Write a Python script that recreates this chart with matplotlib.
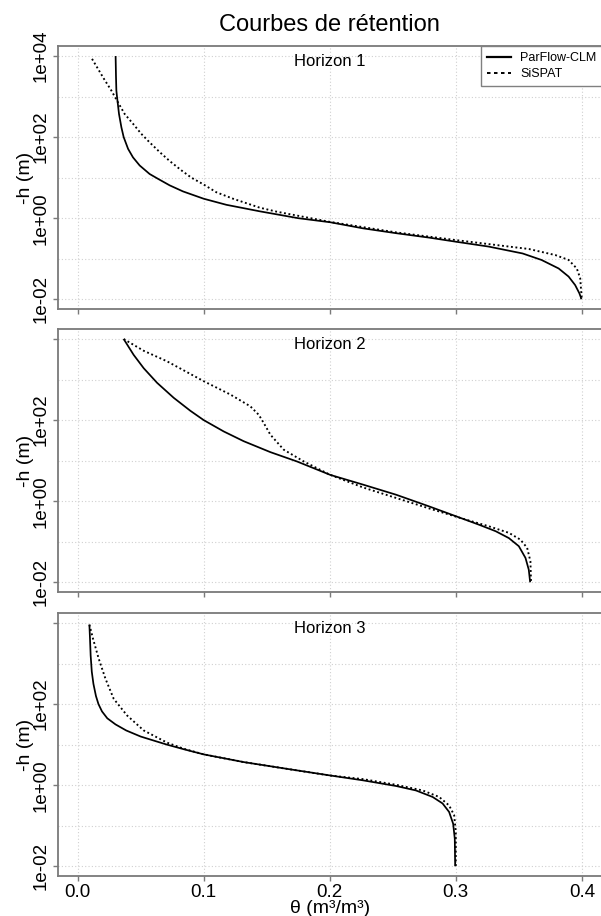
import numpy as np
import matplotlib
matplotlib.use("Agg")
import matplotlib.pyplot as plt
from matplotlib.ticker import FixedLocator, FixedFormatter, NullFormatter
from matplotlib.lines import Line2D

plt.rcParams['font.family'] = ['Liberation Sans', 'DejaVu Sans']

# ---------------- data (theta in m3/m3, log10 of -h in m) ----------------
horizons = ["Horizon 1", "Horizon 2", "Horizon 3"]
series_names = ["ParFlow-CLM", "SiSPAT"]

theta_pf1 = [0.0301, 0.0304, 0.0307, 0.0312, 0.0328, 0.0347, 0.0365, 0.040, 0.0439, 0.0492,
             0.0571, 0.0638, 0.073, 0.0836, 0.1, 0.118, 0.1444, 0.175, 0.2003, 0.2263,
             0.2526, 0.279, 0.300, 0.326, 0.353, 0.368, 0.3816, 0.3895, 0.3947, 0.398,
             0.3992, 0.3995]
logh_pf1 = [4.0, 3.5, 3.15, 3.0, 2.57, 2.24, 2.0, 1.71, 1.50, 1.30,
            1.09, 0.97, 0.81, 0.66, 0.48, 0.33, 0.17, 0.0, -0.10, -0.25,
            -0.37, -0.48, -0.58, -0.70, -0.87, -1.03, -1.24, -1.44, -1.65, -1.85,
            -1.95, -2.0]
theta_sp1 = [0.0114, 0.0206, 0.0267, 0.0312, 0.0373, 0.0439, 0.0505, 0.0571, 0.0651, 0.073,
             0.0823, 0.0902, 0.1, 0.11, 0.1233, 0.1444, 0.158, 0.200, 0.2526, 0.300,
             0.3316, 0.358, 0.379, 0.3895, 0.396, 0.3987, 0.3995, 0.400]
logh_sp1 = [3.93, 3.45, 3.15, 2.90, 2.57, 2.33, 2.08, 1.87, 1.63, 1.41,
            1.18, 1.0, 0.83, 0.64, 0.48, 0.26, 0.16, -0.09, -0.35, -0.54,
            -0.66, -0.76, -0.91, -1.03, -1.24, -1.48, -1.81, -2.0]

theta_pf2 = [0.0365, 0.0444, 0.0524, 0.063, 0.0762, 0.0894, 0.1, 0.1159, 0.1317, 0.1529,
             0.174, 0.2003, 0.2263, 0.2526, 0.279, 0.3, 0.3184, 0.3316, 0.3421, 0.35,
             0.3553, 0.3579, 0.359]
logh_pf2 = [4.0, 3.61, 3.28, 2.92, 2.55, 2.23, 2.0, 1.72, 1.48, 1.21,
            0.98, 0.65, 0.41, 0.16, -0.13, -0.37, -0.58, -0.74, -0.91, -1.11,
            -1.40, -1.69, -2.0]
theta_sp2 = [0.0365, 0.0524, 0.0709, 0.1, 0.1212, 0.137, 0.1437, 0.1476, 0.1529, 0.1635,
             0.1794, 0.2003, 0.2263, 0.2526, 0.279, 0.3053, 0.3263, 0.3421, 0.3513, 0.3566,
             0.3592, 0.3597]
logh_sp2 = [4.0, 3.71, 3.45, 2.96, 2.63, 2.34, 2.13, 1.93, 1.64, 1.27,
            0.98, 0.65, 0.34, 0.08, -0.18, -0.43, -0.62, -0.78, -0.95, -1.15,
            -1.48, -2.0]

theta_pf3 = [0.0093, 0.0098, 0.0103, 0.0112, 0.0125, 0.0145, 0.0165, 0.0193, 0.0235, 0.030,
             0.0385, 0.050, 0.0625, 0.0709, 0.085, 0.1, 0.1317, 0.1688, 0.2003, 0.2263,
             0.2526, 0.2684, 0.2816, 0.2895, 0.2947, 0.2979, 0.2992, 0.2995]
logh_pf3 = [3.96, 3.6, 3.2, 2.8, 2.5, 2.2, 2.0, 1.82, 1.65, 1.5,
            1.35, 1.2, 1.08, 1.0, 0.88, 0.76, 0.57, 0.39, 0.24, 0.12,
            -0.02, -0.13, -0.29, -0.45, -0.66, -0.95, -1.32, -2.0]
theta_sp3 = [0.0093, 0.0122, 0.0167, 0.022, 0.0286, 0.0392, 0.0524, 0.0709, 0.0841, 0.1,
             0.1317, 0.1688, 0.2, 0.2263, 0.2526, 0.2737, 0.2868, 0.2947, 0.2987, 0.3, 0.3]
logh_sp3 = [3.96, 3.61, 3.12, 2.63, 2.13, 1.72, 1.35, 1.05, 0.90, 0.76,
            0.57, 0.39, 0.24, 0.15, 0.01, -0.13, -0.29, -0.50, -0.74, -1.15, -2.0]

x_ticks = [0.0, 0.1, 0.2, 0.3, 0.4]
x_ticklabels = ["0.0", "0.1", "0.2", "0.3", "0.4"]
y_ticks = [1e-2, 1e0, 1e2, 1e4]
y_ticklabels = ["1e-02", "1e+00", "1e+02", "1e+04"]
y_grid_minor = [1e-1, 1e1, 1e3]

panels = [
    (theta_pf1, logh_pf1, theta_sp1, logh_sp1),
    (theta_pf2, logh_pf2, theta_sp2, logh_sp2),
    (theta_pf3, logh_pf3, theta_sp3, logh_sp3),
]

# ---------------- figure ----------------
W, H = 601, 916
fig = plt.figure(figsize=(W / 100, H / 100), dpi=100)

left_px, right_px = 57.5, 602.0
tops_bottoms = [(46.3, 309.0), (329.3, 592.0), (613.3, 876.0)]

frame_col = "#7a7a7a"
grid_col = "#d0d0d0"
dot_style = (0, (1.0, 1.4))

axes = []
for i, (top, bot) in enumerate(tops_bottoms):
    ax = fig.add_axes([left_px / W, 1 - bot / H, (right_px - left_px) / W, (bot - top) / H])
    axes.append(ax)
    tpf, lpf, tsp, lsp = panels[i]
    ax.plot(tpf, np.power(10.0, lpf), color="black", lw=1.25, solid_capstyle="butt",
            solid_joinstyle="round", label=series_names[0])
    ax.plot(tsp, np.power(10.0, lsp), color="black", lw=1.35, linestyle=dot_style,
            dash_capstyle="butt", label=series_names[1])
    ax.set_yscale("log")
    ax.set_xlim(-0.016, 0.416)
    ax.set_ylim(10 ** -2.24, 10 ** 4.24)

    ax.xaxis.set_major_locator(FixedLocator(x_ticks))
    if i == 2:
        ax.xaxis.set_major_formatter(FixedFormatter(x_ticklabels))
    else:
        ax.xaxis.set_major_formatter(NullFormatter())
    ax.yaxis.set_major_locator(FixedLocator(y_ticks))
    labs = list(y_ticklabels)
    if i > 0:
        labs[-1] = ""
    ax.yaxis.set_major_formatter(FixedFormatter(labs))
    ax.yaxis.set_minor_locator(FixedLocator(y_grid_minor))
    ax.yaxis.set_minor_formatter(NullFormatter())
    ax.xaxis.set_minor_locator(FixedLocator([]))

    ax.tick_params(axis="both", which="major", direction="out", length=3.8, width=1.0,
                   color=frame_col, labelsize=13.5, pad=2.0)
    ax.tick_params(axis="y", which="minor", length=0)
    for lab in ax.get_yticklabels():
        lab.set_rotation(90)
        lab.set_va("center")

    ax.grid(True, which="both", color=grid_col, linestyle=(0, (1, 2)), lw=0.8)
    ax.set_axisbelow(True)
    for sp in ax.spines.values():
        sp.set_color(frame_col)
        sp.set_linewidth(1.3)

    ax.set_ylabel("-h (m)", fontsize=14)
    ax.yaxis.set_label_coords(-0.044, 0.5)
    ax.text(0.5, 1 - 15.5 / (bot - top), horizons[i], transform=ax.transAxes,
            ha="center", va="center", fontsize=12)

axes[2].set_xlabel("θ (m³/m³)", fontsize=14, labelpad=-1)

# legend on the first panel
handles = [Line2D([], [], color="black", lw=1.6),
           Line2D([], [], color="black", lw=1.4, linestyle=(0, (1.8, 1.8)), dash_capstyle="butt")]
leg = axes[0].legend(handles, series_names, loc="upper right", bbox_to_anchor=(1.0, 1.0),
                     borderaxespad=0.0, fontsize=9, frameon=True, fancybox=False,
                     framealpha=1.0, edgecolor="#808080", borderpad=0.45,
                     labelspacing=0.35, handlelength=1.9, handletextpad=0.75)
leg.get_frame().set_linewidth(1.0)

fig.text(329.5 / W, 1 - 25 / H, "Courbes de rétention", ha="center", va="center", fontsize=17)

fig.savefig("out.png", dpi=100)
